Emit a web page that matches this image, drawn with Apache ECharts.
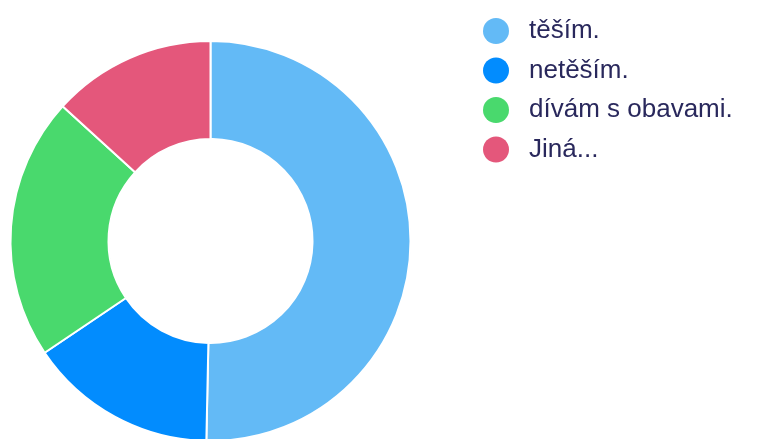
<!DOCTYPE html>
<html>
<head>
<meta charset="utf-8">
<script src="https://cdn.jsdelivr.net/npm/echarts@6/dist/echarts.min.js"></script>
<style>html,body{margin:0;padding:0;background:#fff}#c{width:761px;height:439px}</style>
</head>
<body>
<div id="c"></div>
<script>
const categories = ['těším.', 'netěším.', 'dívám s obavami.', 'Jiná...'];
const values = [76, 23, 32, 20];
const colors = ['#63baf6', '#028cfe', '#49d96d', '#e4577b'];

const chart = echarts.init(document.getElementById('c'), null, {renderer: 'canvas'});
chart.setOption({
  animation: false,
  color: colors,
  legend: {
    orient: 'vertical',
    left: 478,
    top: 13,
    icon: 'circle',
    itemWidth: 26,
    itemHeight: 26,
    itemGap: 13.5,
    itemStyle: {borderWidth: 0},
    textStyle: {fontFamily: 'Liberation Sans, Arial, sans-serif', fontSize: 26, color: '#29285c', padding: [0, 0, 0, 15]},
    data: categories
  },
  series: [{
    type: 'pie',
    center: [210.5, 241],
    radius: [102, 200],
    startAngle: 90,
    label: {show: false},
    labelLine: {show: false},
    itemStyle: {borderColor: '#fff', borderWidth: 2},
    emphasis: {disabled: true},
    data: categories.map((c, i) => ({name: c, value: values[i]}))
  }]
});
</script>
</body>
</html>
